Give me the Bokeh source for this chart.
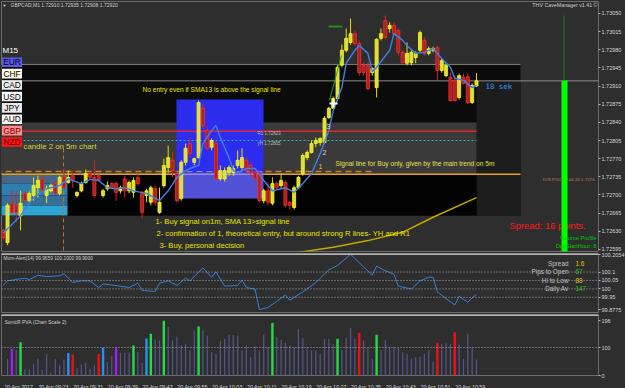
import numpy as np
from bokeh.plotting import figure
from bokeh.layouts import column
from bokeh.models import (Range1d, FixedTicker, PrintfTickFormatter, CustomJSTickFormatter,
                          Span, Label, ColumnDataSource)
from bokeh.core.properties import value
from bokeh.embed import file_html
from bokeh.resources import INLINE

# ---------------- data (GBPCAD M1, 20 Apr 2017, from 09:15) ----------------
opens = [1.72632, 1.72608, 1.72684, 1.72680, 1.72660, 1.72703, 1.72689, 1.72699, 1.72714, 1.72731,
         1.72699, 1.72708, 1.72722, 1.72703, 1.72734, 1.72724, 1.72737, 1.72699, 1.72708, 1.72724,
         1.72741, 1.72734, 1.72737, 1.72699, 1.72712, 1.72722, 1.72722, 1.72708, 1.72731, 1.72708,
         1.72705, 1.72734, 1.72703, 1.72699, 1.72686, 1.72712, 1.72666, 1.72718, 1.72753, 1.72767,
         1.72741, 1.72693, 1.72763, 1.72799, 1.72763, 1.72772, 1.72867, 1.72824, 1.72792, 1.72799,
         1.72731, 1.72731, 1.72743, 1.72743, 1.72757, 1.72753, 1.72767, 1.72757, 1.72743, 1.72743,
         1.72689, 1.72708, 1.72684, 1.72722, 1.72718, 1.72724, 1.72686, 1.72676, 1.72714, 1.72741,
         1.72772, 1.72782, 1.72799, 1.72801, 1.72801, 1.72849, 1.72867, 1.72886, 1.72950, 1.72979,
         1.72994, 1.73011, 1.72992, 1.72950, 1.72950, 1.72936, 1.72907, 1.73002, 1.73036, 1.73021,
         1.73027, 1.73017, 1.72975, 1.72954, 1.72955, 1.72965, 1.72979, 1.72998, 1.72973, 1.72979,
         1.72984, 1.72940, 1.72930, 1.72927, 1.72921, 1.72888, 1.72927, 1.72928, 1.72878, 1.72910]
highs = [1.72635, 1.72684, 1.72708, 1.72708, 1.72708, 1.72707, 1.72707, 1.72734, 1.72737, 1.72737,
         1.72718, 1.72722, 1.72726, 1.72737, 1.72751, 1.72747, 1.72747, 1.72707, 1.72726, 1.72749,
         1.72745, 1.72767, 1.72741, 1.72712, 1.72726, 1.72724, 1.72726, 1.72718, 1.72737, 1.72728,
         1.72734, 1.72741, 1.72708, 1.72712, 1.72718, 1.72718, 1.72714, 1.72770, 1.72795, 1.72782,
         1.72747, 1.72767, 1.72799, 1.72811, 1.72772, 1.72882, 1.72876, 1.72834, 1.72809, 1.72805,
         1.72757, 1.72753, 1.72757, 1.72757, 1.72786, 1.72790, 1.72772, 1.72763, 1.72747, 1.72747,
         1.72712, 1.72724, 1.72734, 1.72726, 1.72741, 1.72728, 1.72689, 1.72718, 1.72737, 1.72780,
         1.72786, 1.72805, 1.72811, 1.72811, 1.72852, 1.72870, 1.72890, 1.72950, 1.72990, 1.73021,
         1.73040, 1.73017, 1.72998, 1.72955, 1.72955, 1.72946, 1.73002, 1.73021, 1.73046, 1.73033,
         1.73033, 1.73021, 1.72979, 1.72994, 1.72979, 1.72977, 1.73017, 1.73004, 1.72986, 1.72986,
         1.72988, 1.72963, 1.72954, 1.72936, 1.72930, 1.72934, 1.72934, 1.72934, 1.72915, 1.72935]
lows = [1.72612, 1.72603, 1.72664, 1.72647, 1.72632, 1.72687, 1.72686, 1.72689, 1.72695, 1.72705,
        1.72684, 1.72705, 1.72699, 1.72699, 1.72712, 1.72722, 1.72714, 1.72695, 1.72705, 1.72722,
        1.72730, 1.72695, 1.72726, 1.72695, 1.72708, 1.72712, 1.72689, 1.72703, 1.72695, 1.72703,
        1.72695, 1.72718, 1.72655, 1.72686, 1.72680, 1.72680, 1.72664, 1.72714, 1.72743, 1.72734,
        1.72686, 1.72689, 1.72757, 1.72772, 1.72757, 1.72770, 1.72828, 1.72786, 1.72786, 1.72728,
        1.72728, 1.72726, 1.72737, 1.72737, 1.72751, 1.72747, 1.72741, 1.72737, 1.72728, 1.72686,
        1.72684, 1.72680, 1.72680, 1.72712, 1.72712, 1.72676, 1.72672, 1.72672, 1.72712, 1.72737,
        1.72767, 1.72780, 1.72792, 1.72795, 1.72799, 1.72847, 1.72865, 1.72882, 1.72946, 1.72975,
        1.72990, 1.72988, 1.72930, 1.72930, 1.72902, 1.72930, 1.72888, 1.72998, 1.73000, 1.73013,
        1.73007, 1.72969, 1.72954, 1.72950, 1.72950, 1.72954, 1.72975, 1.72969, 1.72969, 1.72975,
        1.72921, 1.72936, 1.72927, 1.72880, 1.72880, 1.72884, 1.72913, 1.72876, 1.72876, 1.72908]
closes = [1.72618, 1.72680, 1.72666, 1.72666, 1.72684, 1.72689, 1.72703, 1.72718, 1.72728, 1.72708,
          1.72712, 1.72718, 1.72703, 1.72734, 1.72714, 1.72734, 1.72728, 1.72705, 1.72722, 1.72741,
          1.72734, 1.72699, 1.72728, 1.72708, 1.72718, 1.72714, 1.72705, 1.72714, 1.72708, 1.72724,
          1.72728, 1.72722, 1.72666, 1.72708, 1.72714, 1.72686, 1.72686, 1.72757, 1.72772, 1.72747,
          1.72689, 1.72763, 1.72790, 1.72780, 1.72770, 1.72878, 1.72834, 1.72790, 1.72805, 1.72731,
          1.72747, 1.72747, 1.72753, 1.72751, 1.72767, 1.72772, 1.72747, 1.72743, 1.72731, 1.72689,
          1.72708, 1.72686, 1.72722, 1.72714, 1.72728, 1.72680, 1.72680, 1.72714, 1.72734, 1.72776,
          1.72782, 1.72799, 1.72805, 1.72809, 1.72848, 1.72867, 1.72886, 1.72946, 1.72979, 1.73002,
          1.73011, 1.72992, 1.72936, 1.72936, 1.72905, 1.72944, 1.73000, 1.73011, 1.73004, 1.73027,
          1.73011, 1.72975, 1.72955, 1.72973, 1.72975, 1.72973, 1.73013, 1.72973, 1.72982, 1.72982,
          1.72940, 1.72959, 1.72950, 1.72882, 1.72882, 1.72930, 1.72915, 1.72878, 1.72911, 1.72920]

# SMA 13: bar index, price
sma_bar = [0, 1, 4, 7, 10, 13, 15, 18, 20, 22, 24, 26, 28, 30, 33, 36, 38, 40, 42, 43, 45, 46, 48,
           49, 50, 52, 53, 54, 56, 58, 60, 62, 64, 65, 67, 69, 71, 73, 75, 76, 78, 79, 81, 82, 84,
           85, 86, 89, 90, 92, 93, 95, 97, 99, 101, 103, 104, 106, 108, 109]
sma_val = [1.72626, 1.72635, 1.72660, 1.72695, 1.72712, 1.72718, 1.72731, 1.72722, 1.72730, 1.72728,
           1.72714, 1.72712, 1.72714, 1.72708, 1.72703, 1.72689, 1.72708, 1.72734, 1.72747, 1.72751,
           1.72757, 1.72799, 1.72824, 1.72834, 1.72811, 1.72772, 1.72747, 1.72743, 1.72751, 1.72751,
           1.72728, 1.72708, 1.72712, 1.72714, 1.72705, 1.72722, 1.72741, 1.72780, 1.72824, 1.72863,
           1.72907, 1.72954, 1.72979, 1.72988, 1.72973, 1.72938, 1.72946, 1.72979, 1.73011, 1.72998,
           1.72988, 1.72973, 1.72975, 1.72982, 1.72963, 1.72946, 1.72925, 1.72921, 1.72907, 1.72911]

# slow moving average (yellow, lower right)
slow_bar = [67, 76, 84, 92, 99, 109]
slow_val = [1.72588, 1.72599, 1.72612, 1.72628, 1.72657, 1.72695]

# Mom-Alert(14)
mom_bar = [0, 1, 4, 5, 6, 8, 10, 11, 13, 14, 16, 18, 20, 22, 23, 26, 29, 31, 32, 35, 36, 38, 40,
           42, 43, 46, 48, 49, 51, 54, 55, 56, 58, 59, 61, 63, 65, 66, 69, 72, 75, 77, 80, 83, 85,
           86, 88, 90, 91, 94, 96, 98, 99, 100, 104, 105, 107, 108, 109]
mom_val = [100.022, 100.048, 100.060, 100.064, 100.055, 100.081, 100.073, 100.074, 100.078, 100.090,
           100.038, 100.048, 100.047, 100.008, 100.029, 100.020, 100.008, 100.034, 99.991, 99.985,
           100.034, 100.048, 100.020, 100.064, 100.048, 100.125, 100.069, 100.101, 100.017, 100.020,
           100.052, 100.008, 99.999, 99.8775, 99.890, 99.926, 99.964, 99.933, 99.982, 100.038,
           100.113, 100.139, 100.2054, 100.130, 100.083, 100.135, 100.108, 100.087, 100.017, 99.999,
           100.048, 100.069, 100.069, 99.982, 99.904, 99.956, 99.921, 99.947, 99.9659]

# SonicR PVA volume (bars 1..109)
vol = [60, 95, 92, 119, 21, 21, 42, 60, 20, 77, 12, 60, 36, 57, 80, 75, 27, 39, 46, 24,
       36, 77, 99, 48, 69, 99, 81, 81, 82, 107, 84, 45, 132, 149, 129, 125, 196, 173, 125, 139,
       107, 113, 89, 161, 175, 161, 143, 83, 77, 123, 131, 145, 145, 143, 89, 107, 65, 105, 89, 146,
       101, 188, 137, 127, 117, 107, 101, 167, 134, 101, 89, 89, 77, 131, 131, 111, 131, 92, 134, 170,
       131, 152, 125, 99, 60, 146, 92, 127, 101, 101, 98, 83, 77, 62, 65, 68, 77, 89, 48, 117,
       113, 115, 112, 155, 111, 60, 149, 99, 57]
# PVA classes: bar numbers of the coloured (non-standard) bars
vol_purple = [2, 26]
vol_green = [4, 30, 34, 37, 45, 62, 77, 86]
vol_blue = [15, 23, 33]
vol_red = [16, 22, 82, 100, 104]

price_ticks = [1.73050, 1.73015, 1.72980, 1.72945, 1.72910, 1.72875, 1.72840, 1.72805,
               1.72770, 1.72735, 1.72700, 1.72665, 1.72630, 1.72595]
mom_ticks = [100.2054, 100.1, 100.05, 100.0, 99.95, 99.8775]
vol_ticks = [0, 100, 196]
time_labels = ["20 Apr 2017", "20 Apr 09:23", "20 Apr 09:31", "20 Apr 09:39", "20 Apr 09:47",
               "20 Apr 09:55", "20 Apr 10:03", "20 Apr 10:11", "20 Apr 10:19", "20 Apr 10:27",
               "20 Apr 10:35", "20 Apr 10:43", "20 Apr 10:51", "20 Apr 10:59"]

bid = 1.72920
r1 = 1.72823
yh = 1.72805
signal = 1.72745
poc = 1.72740

currencies = ["EUR", "CHF", "CAD", "USD", "JPY", "AUD", "GBP", "NZD"]
cur_bg = ["#5a5aee", "#fffbe6", "#efefef", "#ffffff", "#e9e9e9", "#fafafa", "#ff8c8c", "#ff1414"]
cur_fg = ["#000000", "#000000", "#000000", "#000000", "#000000", "#000000", "#8a0000", "#500000"]

# ---------------- helpers for annotation placement ----------------
FONT = "Liberation Sans"
BG = "#2e2e2e"


def yp(px):  # window pixel row -> price (main panel)
    return 1.73075 - px * 0.00001928


def xb(px):  # window pixel column -> bar index
    return (px - 2.7) / 4.342


XR = Range1d(xb(1), xb(598))


def base_fig(h_frame, yr, top, bottom, xloc=None):
    f = figure(frame_width=597, frame_height=h_frame, min_border_left=1, min_border_right=27,
               min_border_top=top, min_border_bottom=bottom, x_range=XR, y_range=yr,
               x_axis_location=xloc, y_axis_location="right", toolbar_location=None,
               output_backend="svg", background_fill_color=BG, border_fill_color=BG,
               outline_line_color="#6c6c6c")
    f.grid.grid_line_color = None
    ax = f.yaxis[0]
    ax.axis_line_color = None
    ax.major_tick_line_color = "#b0b0b0"
    ax.major_tick_out = 2
    ax.major_tick_in = 0
    ax.minor_tick_line_color = None
    ax.major_label_standoff = 1
    ax.major_label_text_font = FONT
    ax.major_label_text_color = "#d6d6d6"
    ax.major_label_text_font_size = "5.5px"
    return f


def txt(f, x, y, s, color, size, align="left", font=FONT):
    f.text(x=[x], y=[y], text=[s], text_color=color, text_font_size=size,
           text_font=value(font), text_align=align, text_baseline="middle")


# ---------------- main price panel ----------------
p = base_fig(250, Range1d(1.72591, 1.73073), 1, 1)
p.yaxis.ticker = FixedTicker(ticks=price_ticks)
p.yaxis.formatter = PrintfTickFormatter(format="%.5f")

xl, xr_box, xr_wide = xb(-5), xb(476), xb(520)
# zones
p.quad(left=[xl], right=[xr_wide], bottom=[yp(215)], top=[yp(64)], fill_color="#0b0b0b", line_color=None)
p.quad(left=[xr_box], right=[xr_wide], bottom=[yp(215)], top=[bid], fill_color="#1d1d1d", line_color=None)
p.quad(left=[xl], right=[xr_box], bottom=[poc], top=[yp(122)], fill_color="#3a3a3a", line_color=None)
p.quad(left=[xl], right=[xr_box], bottom=[yp(215)], top=[poc], fill_color="#030303", line_color=None)
# cyan zone on the left
cz_top = [poc, yp(183), yp(195), yp(205)]
cz_bot = [yp(183), yp(195), yp(205), yp(215)]
cz_col = ["#46678a", "#2c7fae", "#356f98", "#2fa3d2"]
p.quad(left=[xl] * 4, right=[xb(67)] * 4, bottom=cz_bot, top=cz_top, fill_color=cz_col, line_color=None)

# level lines
p.segment(x0=[xl], y0=[yp(64)], x1=[xr_wide], y1=[yp(64)], line_color="#7c7c7c", line_width=1)
p.segment(x0=[xl], y0=[signal], x1=[xb(372)], y1=[signal], line_color="#d0801e", line_width=1.5,
          line_dash="6 4")
p.segment(x0=[xl], y0=[poc], x1=[xr_wide], y1=[poc], line_color="#e8a317", line_width=1.5)

# blue box
p.quad(left=[xb(176)], right=[xb(263)], bottom=[yp(172)], top=[yp(99)], fill_color="#2d2df0", line_color=None)
p.quad(left=[xb(176)], right=[xb(263)], bottom=[yp(198)], top=[yp(172)], fill_color="#5252d8", line_color=None)
p.segment(x0=[xb(176)], y0=[poc], x1=[xb(263)], y1=[poc], line_color="#b9a3f2", line_width=1)
p.segment(x0=[xb(176)], y0=[signal], x1=[xb(263)], y1=[signal], line_color="#9a8ae0", line_width=1,
          line_dash="6 4")

p.segment(x0=[xl], y0=[bid], x1=[xb(600)], y1=[bid], line_color="#8c8c8c", line_width=1)
p.segment(x0=[xl], y0=[r1], x1=[xr_box], y1=[r1], line_color="#e02828", line_width=1.5)
p.segment(x0=[xl], y0=[yh], x1=[xr_box], y1=[yh], line_color="#1fb5b5", line_width=1, line_dash="2 2")
p.segment(x0=[xb(63)], y0=[yp(148)], x1=[xb(63)], y1=[yp(252)], line_color="#c07422", line_width=1,
          line_dash="4 3")

# slow MA
p.line(slow_bar, slow_val, line_color="#c8a800", line_width=1.5)

# candles
o = np.array(opens); c = np.array(closes); h = np.array(highs); l = np.array(lows)
idx = np.arange(len(o))
up = c >= o
dn = ~up
src_up = ColumnDataSource(dict(x=idx[up], top=c[up], bot=o[up], h=h[up], l=l[up]))
src_dn = ColumnDataSource(dict(x=idx[dn], top=o[dn], bot=c[dn], h=h[dn], l=l[dn]))
p.segment(x0="x", y0="h", x1="x", y1="l", source=src_up, line_color="#e4e400", line_width=1)
p.segment(x0="x", y0="h", x1="x", y1="l", source=src_dn, line_color="#e02020", line_width=1)
p.vbar(x="x", top="top", bottom="bot", width=0.7, source=src_up, fill_color="#d8d85a",
       line_color="#ffff00", line_width=0.8)
p.vbar(x="x", top="top", bottom="bot", width=0.7, source=src_dn, fill_color="#a82222",
       line_color="#ff2e2e", line_width=0.8)

# SMA 13
p.line(sma_bar, sma_val, line_color="#3f7fe8", line_width=1.4)

# green trade marks
p.segment(x0=[xb(328)], y0=[yp(26)], x1=[xb(342)], y1=[yp(26)], line_color="#1f8f1f", line_width=2)
p.segment(x0=[xb(329)], y0=[yp(100)], x1=[xb(341)], y1=[yp(55)], line_color="#22a522", line_width=1)
p.scatter(x=[xb(333)], y=[yp(103)], marker="cross", size=8, line_color="#ffffff", line_width=2)

# texts
txt(p, xb(159), yp(245), "3- Buy, personal decision", "#e6e600", "7.6px")
txt(p, xb(156), yp(233), "2- confirmation of 1, theoretical entry, but around strong  R lines- YH and R1",
    "#e6e600", "7.6px")
txt(p, xb(155), yp(221), "1- Buy signal on1m, SMA 13>signal line", "#e6e600", "7.6px")
txt(p, xb(142), yp(89), "No entry even if SMA13 is above the signal line", "#e6e600", "6.6px")
txt(p, xb(23), yp(146), "candle 2 on 5m chart", "#d6d640", "7.8px")
txt(p, xb(335), yp(163), "Signal line for Buy only, given by the main trend on 5m", "#e2e24a", "6.6px")
txt(p, xb(318), yp(166), "1", "#e0c060", "7px")
txt(p, xb(322), yp(152), "2", "#d8d8d8", "7px")
txt(p, xb(326), yp(126), "3", "#d8d8d8", "7px")
txt(p, xb(257), yp(133), "R1    1.72823", "#bdbdbd", "4.5px")
txt(p, xb(257), yp(143), "yH    1.72805", "#bdbdbd", "4.5px")
txt(p, xb(485), yp(86), "18 sek", "#3399ff", "7.4px", font="DejaVu Sans Mono")
txt(p, xb(509), yp(225), "Spread: 16 points.", "#ff1a1a", "9.4px")
txt(p, xb(594), yp(179), "D#8.POC 17.04.20 1.7274", "#c08058", "4.4px", align="right")
txt(p, xb(10), yp(5), "GBPCAD,M1  1.72910 1.72935 1.72908 1.72920", "#cfcfcf", "5px")
txt(p, xb(4), yp(5), "\u25bc", "#e0e0e0", "4px", align="center")
txt(p, xb(597), yp(5), "THV CaveManager v1.41 \u00a9", "#d0d0d0", "5.3px", align="right")

# spread / volume-profile bar at right
p.segment(x0=[xb(563.5)], y0=[bid], x1=[xb(563.5)], y1=[yp(15)], line_color="#1c7a1c", line_width=1)
p.quad(left=[xb(561)], right=[xb(567)], bottom=[yp(252)], top=[bid], fill_color="#00ff00", line_color=None)
txt(p, xb(596), yp(238), "Volume Profile", "#00c800", "5.7px", align="right")
txt(p, xb(596), yp(246), "DayStartHour: 8", "#00c800", "5.7px", align="right")

# currency strength boxes
txt(p, xb(2), yp(50), "M15", "#ffffff", "8px")
for k, (name, bgc, fgc) in enumerate(zip(currencies, cur_bg, cur_fg)):
    top_px = 57 + 11.4 * k
    p.quad(left=[xb(1.5)], right=[xb(21.5)], bottom=[yp(top_px + 9.6)], top=[yp(top_px)],
           fill_color=bgc, line_color=None)
    txt(p, xb(11.5), yp(top_px + 5), name, fgc, "8.4px", align="center")

p.add_layout(Label(x=600, x_units="screen", y=bid, text="1.72920", text_font=FONT,
                   text_font_size="5.5px", text_color="#000000", text_baseline="middle",
                   background_fill_color="#ffffff", border_line_color="#ffffff"))

# ---------------- momentum panel ----------------
MOM_LO, MOM_HI = 99.86, 100.21


def ym(px):
    return MOM_HI - (px - 253) * (MOM_HI - MOM_LO) / 59


m = base_fig(59, Range1d(MOM_LO, MOM_HI), 1, 1)
m.yaxis.ticker = FixedTicker(ticks=mom_ticks)
m.yaxis.formatter = CustomJSTickFormatter(code="return tick.toString()")
m.add_layout(Span(location=ym(253.5), dimension="width", line_color="#b4b4b4", line_width=2))
for lv in [100.1, 100.05, 100.0, 99.95]:
    m.add_layout(Span(location=lv, dimension="width", line_color="#a8a8a8", line_width=1,
                      line_dash="1 2"))
m.line(mom_bar, mom_val, line_color="#3580dc", line_width=1)
txt(m, xb(3), ym(258), "Mom-Alert(14) 99.9659 100.1000 99.9000", "#cfcfcf", "4.8px")
info_lab = ["Spread", "Pips to Open", "Hi to Low", "Daily Av"]
info_val = ["1.6", "67", "88", "147"]
info_col = ["#e6c000", "#22c422", "#e6c000", "#22c422"]
for k in range(4):
    yy = ym(263 + 8.3 * k)
    txt(m, xb(568), yy, info_lab[k], "#c4c4c4", "6.4px", align="right")
    txt(m, xb(575), yy, info_val[k], info_col[k], "6.4px")

# ---------------- volume panel ----------------
VOL_HI = 218
v = base_fig(61, Range1d(0, VOL_HI), 1, 13, xloc="below")
v.yaxis.ticker = FixedTicker(ticks=vol_ticks)
v.add_layout(Span(location=VOL_HI - VOL_HI / 61 * 0.5, dimension="width", line_color="#b4b4b4",
                  line_width=2))
v.add_layout(Span(location=100, dimension="width", line_color="#a8a8a8", line_width=1, line_dash="1 2"))
kcol = {"s": "#55558c", "p": "#a020f0", "g": "#22dd44", "b": "#2a90f0", "r": "#ee1111"}
vol_kind = ["s"] * len(vol)
for kind, bars in (("p", vol_purple), ("g", vol_green), ("b", vol_blue), ("r", vol_red)):
    for bnum in bars:
        vol_kind[bnum - 1] = kind
vx = np.arange(1, len(vol) + 1)
vcols = [kcol[k] for k in vol_kind]
vw = [0.28 if k == "s" else 0.55 for k in vol_kind]
v.vbar(x=vx, top=vol, bottom=0, width=vw, fill_color=vcols, line_color=None)
txt(v, xb(4), (375 - 321) * VOL_HI / 61, "SonicR PVA  (Chart Scale 2)", "#cfcfcf", "5px")

ax = v.xaxis[0]
tick_pos = [8 * k + 3.6 for k in range(len(time_labels))]
ax.ticker = FixedTicker(ticks=tick_pos)
ax.major_label_overrides = {t: s for t, s in zip(tick_pos, time_labels)}
ax.axis_line_color = None
ax.major_tick_line_color = None
ax.minor_tick_line_color = None
ax.major_label_standoff = 2
ax.major_label_text_font = FONT
ax.major_label_text_font_size = "5.3px"
ax.major_label_text_color = "#d6d6d6"

layout = column(p, m, v, spacing=0, styles={"background-color": BG})
open("out.html", "w").write(file_html(layout, INLINE))
